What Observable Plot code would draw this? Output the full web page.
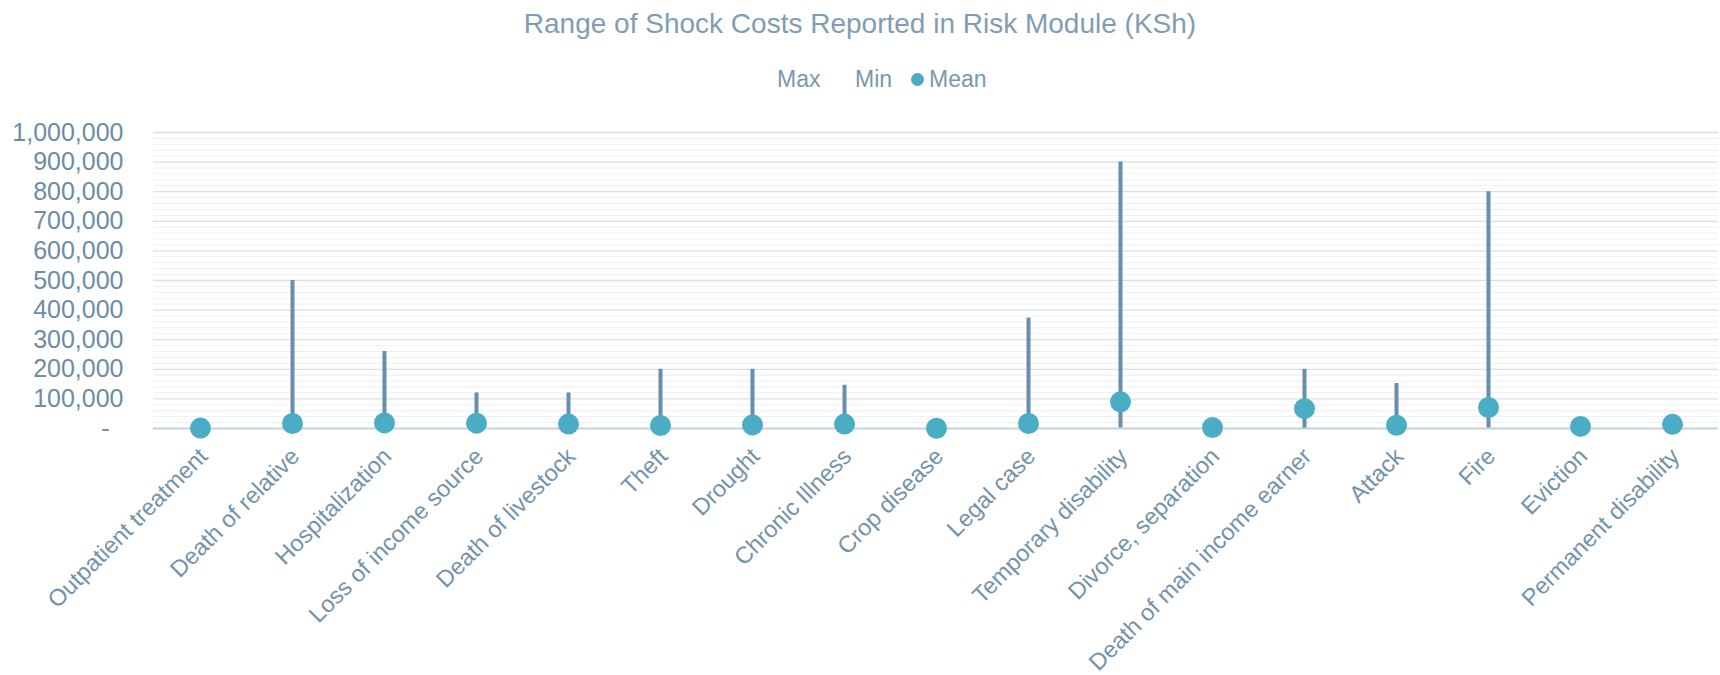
<!DOCTYPE html>
<html>
<head>
<meta charset="utf-8">
<script src="https://cdn.jsdelivr.net/npm/d3@7"></script>
<script src="https://cdn.jsdelivr.net/npm/@observablehq/plot@0.6"></script>
<style>
  html, body { margin: 0; padding: 0; background: #fff; }
  body { width: 1720px; height: 675px; position: relative; overflow: hidden; font-family: "Liberation Sans", Arial, sans-serif; }
  #title { position: absolute; top: 7px; left: 0; width: 1720px; text-align: center; font-size: 28px; color: #809db5; line-height: 34px; }
  .leg { position: absolute; top: 65px; font-size: 23px; color: #7898b1; line-height: 28px; }
  .legdot { position: absolute; top: 73px; width: 13px; height: 13px; border-radius: 50%; background: #4bacc6; }
  #chart { position: absolute; top: 100px; left: 0; }
</style>
</head>
<body>
<div id="title">Range of Shock Costs Reported in Risk Module (KSh)</div>
<span class="leg" style="left:777px">Max</span>
<span class="leg" style="left:855px">Min</span>
<span class="legdot" style="left:911px"></span>
<span class="leg" style="left:929px">Mean</span>
<div id="chart"></div>
<script>
const categories = ["Outpatient treatment", "Death of relative", "Hospitalization", "Loss of income source",
  "Death of livestock", "Theft", "Drought", "Chronic Illness", "Crop disease", "Legal case",
  "Temporary disability", "Divorce, separation", "Death of main income earner", "Attack", "Fire",
  "Eviction", "Permanent disability"];
const maxCost  = [5000, 500000, 260000, 120000, 120000, 200000, 200000, 146000, 4000, 373000,
  900000, 10000, 200000, 152000, 800000, 15000, 25000];
const minCost  = [100, 500, 200, 1000, 500, 300, 500, 200, 100, 1000,
  2000, 500, 1000, 500, 2000, 1000, 2000];
const meanCost = [1500, 17000, 19000, 18000, 15000, 10000, 12000, 15000, 1000, 17000,
  90000, 3000, 67000, 11000, 71000, 7000, 14000];
const yTicks = [0, 100000, 200000, 300000, 400000, 500000, 600000, 700000, 800000, 900000, 1000000];
const yMinorTicks = [20000, 40000, 60000, 80000, 120000, 140000, 160000, 180000, 220000, 240000, 260000, 280000,
  320000, 340000, 360000, 380000, 420000, 440000, 460000, 480000, 520000, 540000, 560000, 580000,
  620000, 640000, 660000, 680000, 720000, 740000, 760000, 780000, 820000, 840000, 860000, 880000,
  920000, 940000, 960000, 980000];

const rows = categories.map((c, i) => ({cat: c, max: maxCost[i], min: minCost[i], mean: meanCost[i]}));

const chart = Plot.plot({
  width: 1720,
  height: 575,
  marginTop: 32,
  marginBottom: 247,
  marginLeft: 153,
  marginRight: 2,
  style: {fontFamily: "Liberation Sans, Arial, sans-serif", background: "white"},
  x: {type: "point", domain: categories, padding: 0.5, label: null},
  y: {domain: [0, 1000000], label: null},
  marks: [
    Plot.ruleY(yMinorTicks, {stroke: "#ebf0f5", strokeWidth: 1}),
    Plot.ruleY(yTicks.filter(d => d > 0), {stroke: "#d6e0e9", strokeWidth: 1.3}),
    Plot.ruleY([0], {stroke: "#c3d2de", strokeWidth: 2}),
    Plot.axisY({ticks: yTicks, tickSize: 0, tickPadding: 30, fontSize: 25, color: "#6d8ca6",
      tickFormat: d => d === 0 ? "-\u00a0\u00a0" : d3.format(",")(d)}),
    Plot.axisX({tickSize: 0, tickPadding: 24, tickRotate: -45, fontSize: 23.5, color: "#7392ab", dx: 3}),
    Plot.ruleX(rows, {x: "cat", y1: "min", y2: "max", stroke: "#6a8da9", strokeWidth: 4}),
    Plot.dot(rows, {x: "cat", y: "mean", r: 10.5, fill: "#4bacc6", stroke: "none"})
  ]
});
document.getElementById("chart").appendChild(chart);
</script>
</body>
</html>
